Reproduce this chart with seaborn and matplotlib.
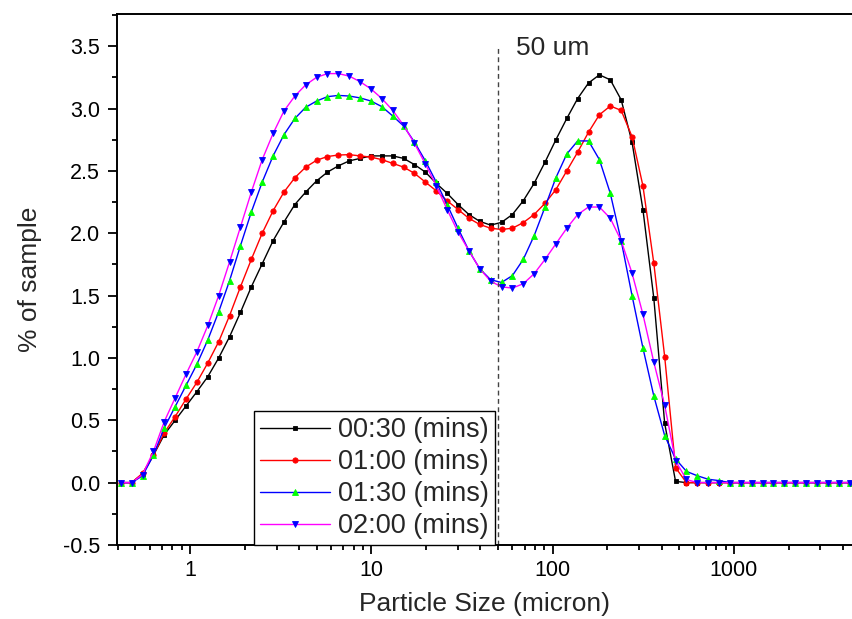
import matplotlib
matplotlib.use("Agg")
import matplotlib.pyplot as plt
import matplotlib.ticker as mticker
import numpy as np
import pandas as pd
import seaborn as sns

# particle size bins (micron)
size = [0.4150, 0.4764, 0.5470, 0.6281, 0.7211, 0.8279, 0.9506, 1.0914, 1.2531, 1.4388,
        1.6520, 1.8967, 2.1777, 2.5003, 2.8708, 3.2961, 3.7844, 4.3451, 4.9888, 5.7280,
        6.5766, 7.5509, 8.6696, 9.9541, 11.429, 13.122, 15.066, 17.298, 19.861, 22.803,
        26.182, 30.061, 34.514, 39.628, 45.499, 52.240, 59.979, 68.865, 79.068, 90.782,
        104.23, 119.67, 137.40, 157.76, 181.13, 207.97, 238.78, 274.16, 314.77, 361.41,
        414.95, 476.43, 547.02, 628.06, 721.11, 827.94, 950.60, 1091.4, 1253.1, 1438.8,
        1652.0, 1896.7, 2177.7, 2500.3, 2870.8, 3296.1, 3784.4, 4345.1]

t_0030 = [0, 0, 0.07, 0.22, 0.385, 0.50, 0.615, 0.73, 0.85, 1.00,
          1.17, 1.365, 1.57, 1.755, 1.94, 2.09, 2.23, 2.33, 2.42, 2.49,
          2.54, 2.58, 2.60, 2.62, 2.62, 2.62, 2.60, 2.55, 2.49, 2.40,
          2.32, 2.23, 2.15, 2.095, 2.065, 2.087, 2.15, 2.26, 2.40, 2.57,
          2.75, 2.92, 3.08, 3.205, 3.27, 3.23, 3.07, 2.73, 2.19, 1.48,
          0.476, 0.01, 0, 0, 0, 0, 0, 0, 0, 0,
          0, 0, 0, 0, 0, 0, 0, 0]

t_0100 = [0, 0, 0.075, 0.22, 0.40, 0.53, 0.67, 0.805, 0.96, 1.13,
          1.34, 1.57, 1.79, 2.00, 2.18, 2.33, 2.445, 2.53, 2.585, 2.615,
          2.627, 2.63, 2.62, 2.61, 2.59, 2.56, 2.53, 2.48, 2.41, 2.34,
          2.26, 2.19, 2.12, 2.07, 2.04, 2.03, 2.04, 2.085, 2.15, 2.24,
          2.35, 2.50, 2.65, 2.81, 2.95, 3.02, 2.985, 2.775, 2.38, 1.76,
          1.01, 0.12, 0, 0, 0, 0, 0, 0, 0, 0,
          0, 0, 0, 0, 0, 0, 0, 0]

t_0130 = [0, 0, 0.055, 0.22, 0.44, 0.61, 0.78, 0.95, 1.145, 1.37,
          1.62, 1.90, 2.17, 2.41, 2.62, 2.79, 2.92, 3.01, 3.06, 3.095,
          3.105, 3.10, 3.085, 3.06, 3.015, 2.94, 2.86, 2.73, 2.58, 2.41,
          2.23, 2.04, 1.86, 1.715, 1.627, 1.605, 1.66, 1.79, 1.98, 2.21,
          2.445, 2.635, 2.74, 2.74, 2.59, 2.32, 1.94, 1.50, 1.08, 0.695,
          0.377, 0.19, 0.09, 0.055, 0.027, 0.016, 0, 0, 0, 0,
          0, 0, 0, 0, 0, 0, 0, 0]

t_0200 = [0, 0, 0.065, 0.25, 0.49, 0.68, 0.87, 1.05, 1.26, 1.50,
          1.77, 2.05, 2.33, 2.59, 2.80, 2.98, 3.10, 3.19, 3.25, 3.28,
          3.28, 3.26, 3.215, 3.157, 3.08, 2.985, 2.865, 2.72, 2.555, 2.38,
          2.19, 2.01, 1.86, 1.715, 1.615, 1.57, 1.56, 1.595, 1.675, 1.79,
          1.915, 2.04, 2.15, 2.21, 2.21, 2.12, 1.94, 1.68, 1.35, 0.966,
          0.62, 0.175, 0.025, 0, 0, 0, 0, 0, 0, 0,
          0, 0, 0, 0, 0, 0, 0, 0]

labels = ["00:30 (mins)", "01:00 (mins)", "01:30 (mins)", "02:00 (mins)"]
series = [t_0030, t_0100, t_0130, t_0200]
line_colors = ["#000000", "#ff0000", "#0000ff", "#ff00ff"]
marker_colors = ["#000000", "#ff0000", "#00ff00", "#0000ff"]
markers = ["s", "o", "^", "v"]
msizes = [3.3, 3.8, 4.6, 4.6]

sns.set_style("ticks")
plt.rcParams['font.family'] = ['Liberation Sans', 'DejaVu Sans']

fig = plt.figure(figsize=(8.52, 6.19), dpi=100)
ax = fig.add_axes([0.1377, 0.1196, 1 - 0.1377, 0.977 - 0.1196])

for lab, vals, lc, mc, mk, ms in zip(labels, series, line_colors, marker_colors, markers, msizes):
    df = pd.DataFrame({"size": size, "pct": vals})
    sns.lineplot(data=df, x="size", y="pct", ax=ax, color=lc, lw=1.0,
                 marker=mk, markersize=ms, markerfacecolor=mc, markeredgecolor=mc,
                 markeredgewidth=0.6, label=lab, estimator=None, sort=False,
                 errorbar=None, legend=False)

ax.set_xscale("log")
ax.set_xlim(0.397, 4480)
ax.set_ylim(-0.5, 3.756)

ax.vlines(50, -0.5, 3.5, colors="#444444", linestyles=(0, (3.5, 2.5)), lw=1.0)
ax.text(62.8, 3.43, "50 um", fontsize=19, va="baseline", ha="left")

ax.xaxis.set_major_locator(mticker.FixedLocator([1, 10, 100, 1000]))
ax.xaxis.set_major_formatter(mticker.FixedFormatter(["1", "10", "100", "1000"]))
ax.xaxis.set_minor_locator(mticker.LogLocator(base=10, subs=np.arange(2, 10), numticks=20))
ax.xaxis.set_minor_formatter(mticker.NullFormatter())
ax.yaxis.set_major_locator(mticker.MultipleLocator(0.5))
ax.yaxis.set_minor_locator(mticker.MultipleLocator(0.25))
ax.yaxis.set_major_formatter(mticker.FormatStrFormatter("%.1f"))

ax.tick_params(which="major", direction="out", length=6.5, width=1.3, labelsize=15.5,
               color="black", labelcolor="black")
ax.tick_params(axis="x", which="major", pad=4)
ax.tick_params(axis="y", which="major", pad=6)
ax.tick_params(which="minor", direction="out", length=3.5, width=1.3, color="black")

for side in ["left", "bottom", "top"]:
    ax.spines[side].set_color("black")
    ax.spines[side].set_linewidth(1.4)
ax.spines["right"].set_visible(False)

ax.set_xlabel("Particle Size (micron)", fontsize=19, labelpad=8)
ax.set_ylabel("% of sample", fontsize=19, labelpad=15)

handles = ax.get_lines()[:4]
leg = ax.legend(handles=handles, labels=labels, loc="lower left",
                bbox_to_anchor=(0.186, 0.0), borderaxespad=0, fontsize=19.5,
                numpoints=1, handlelength=2.6, handletextpad=0.3,
                labelspacing=0.22, borderpad=0.22, fancybox=False,
                framealpha=1, edgecolor="black")
leg.get_frame().set_linewidth(1.0)

fig.savefig("out.png", dpi=100)
